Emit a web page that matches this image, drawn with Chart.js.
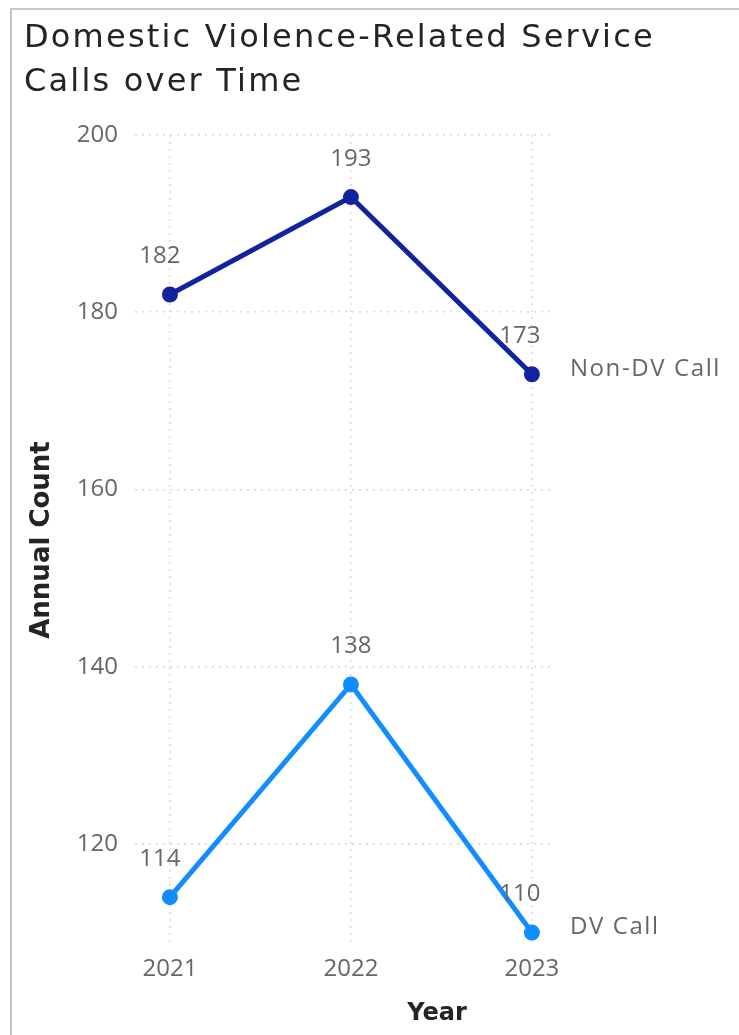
<!DOCTYPE html>
<html>
<head>
<meta charset="utf-8">
<script src="https://cdn.jsdelivr.net/npm/chart.js@4/dist/chart.umd.min.js"></script>
<style>
html, body { margin: 0; padding: 0; background: #fff; }
#wrap { position: relative; width: 739px; height: 1035px; overflow: hidden; }
#frame { position: absolute; left: 10px; top: 8px; width: 740px; height: 1040px;
         border-left: 2px solid #c8c6c4; border-top: 2px solid #c8c6c4; }
canvas { position: absolute; left: 0; top: 0; }
</style>
</head>
<body>
<div id="wrap">
  <div id="frame"></div>
  <canvas id="chart" width="739" height="1035"></canvas>
</div>
<script>
var years = [2021, 2022, 2023];
var nonDvCalls = [182, 193, 173];
var dvCalls = [114, 138, 110];
var seriesNames = ['Non-DV Call', 'DV Call'];
var yTicks = [120, 140, 160, 180, 200];
var titleLines = ['Domestic Violence-Related Service', 'Calls over Time'];

var labelFont = '24px "Open Sans", sans-serif';
var labelColor = '#666666';

function toPoints(values) {
    return years.map(function(yr, i) { return { x: yr, y: values[i] }; });
}

// title, value labels above points, series name at the end of each line
var lineLabels = {
    id: 'lineLabels',
    afterDraw: function(chart) {
        var ctx = chart.ctx;
        ctx.save();
        // visual title (Power BI DIN is wide, so spread the letters a bit)
        ctx.font = '32px "DejaVu Sans", sans-serif';
        ctx.fillStyle = '#252423';
        ctx.textAlign = 'left';
        ctx.textBaseline = 'alphabetic';
        ctx.letterSpacing = '2.2px';
        titleLines.forEach(function(line, k) {
            ctx.fillText(line, 24, 47 + k * 43.5);
        });

        ctx.font = labelFont;
        ctx.fillStyle = labelColor;
        ctx.textBaseline = 'middle';
        chart.data.datasets.forEach(function(ds, i) {
            var meta = chart.getDatasetMeta(i);
            ctx.letterSpacing = '0px';
            meta.data.forEach(function(pt, j) {
                var dx = 0;
                if (j === 0) dx = -10;
                if (j === meta.data.length - 1) dx = -12;
                ctx.textAlign = 'center';
                ctx.fillText(String(ds.data[j].y), pt.x + dx, pt.y - 38);
            });
            var last = meta.data[meta.data.length - 1];
            ctx.textAlign = 'left';
            ctx.letterSpacing = '1.6px';
            ctx.fillText(ds.label, last.x + 38, last.y - 5);
        });
        // x axis title, centred over the whole visual like Power BI does
        ctx.letterSpacing = '0px';
        ctx.font = 'bold 24px "DejaVu Sans", sans-serif';
        ctx.fillStyle = '#252423';
        ctx.textAlign = 'center';
        ctx.fillText('Year', (chart.chartArea.left + chart.width) / 2, 1014);
        ctx.restore();
    }
};

var ctx = document.getElementById('chart');
var chart = new Chart(ctx, {
    type: 'line',
    data: {
        datasets: [{
            label: seriesNames[0],
            data: toPoints(nonDvCalls),
            borderColor: '#12239e',
            backgroundColor: '#12239e',
            borderWidth: 5,
            pointRadius: 5.5,
            pointHoverRadius: 5.5,
            tension: 0
        }, {
            label: seriesNames[1],
            data: toPoints(dvCalls),
            borderColor: '#118dff',
            backgroundColor: '#118dff',
            borderWidth: 5,
            pointRadius: 5.5,
            pointHoverRadius: 5.5,
            tension: 0
        }]
    },
    options: {
        responsive: false,
        animation: false,
        layout: {
            padding: { left: 24, right: 189, top: 135, bottom: 0 }
        },
        plugins: {
            legend: { display: false },
            tooltip: { enabled: false },
            title: { display: false }
        },
        scales: {
            x: {
                type: 'linear',
                min: 2020.807,
                max: 2023.1,
                afterBuildTicks: function(scale) {
                    scale.ticks = years.map(function(v) { return { value: v }; });
                },
                afterFit: function(scale) { scale.height = 90; },
                ticks: {
                    callback: function(v) { return String(v); },
                    font: { family: 'Open Sans', size: 24 },
                    color: labelColor,
                    padding: 10,
                    maxRotation: 0
                },
                grid: { color: '#d9d9d9', lineWidth: 1.5, drawTicks: false },
                border: { display: false, dash: [2, 5] }
            },
            y: {
                min: 108.6,
                max: 200,
                afterBuildTicks: function(scale) {
                    scale.ticks = yTicks.map(function(v) { return { value: v }; });
                },
                afterFit: function(scale) { scale.width = 111; },
                ticks: {
                    font: { family: 'Open Sans', size: 24 },
                    color: labelColor,
                    padding: 17
                },
                grid: { color: '#d9d9d9', lineWidth: 1.5, drawTicks: false },
                border: { display: false, dash: [2, 5] },
                title: {
                    display: true,
                    text: 'Annual Count',
                    color: '#252423',
                    font: { family: 'DejaVu Sans', size: 26, weight: 'bold' },
                    padding: { top: 3, bottom: 0 }
                }
            }
        }
    },
    plugins: [lineLabels]
});
</script>
</body>
</html>
